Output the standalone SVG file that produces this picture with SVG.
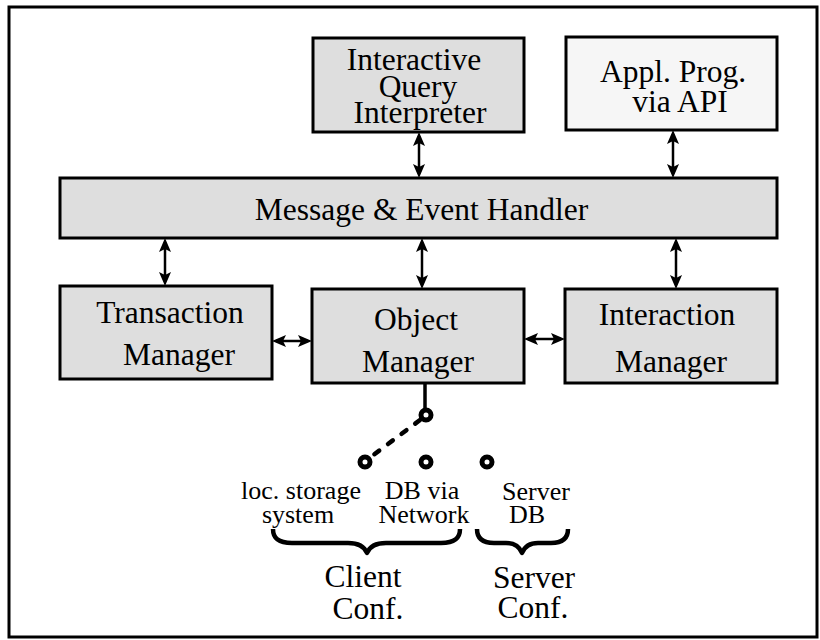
<svg xmlns="http://www.w3.org/2000/svg" width="820" height="640" viewBox="0 0 820 640">
  <style>
    .box { fill: #dedede; stroke: #000; stroke-width: 3; }
    .box.light { fill: #f6f6f6; }
    .lbl { font-family: "Liberation Serif", "Times New Roman", serif; font-size: 31.5px; fill: #000; text-anchor: middle; }
    .sm { font-family: "Liberation Serif", "Times New Roman", serif; font-size: 26px; fill: #000; text-anchor: middle; }
    .arr { stroke: #000; stroke-width: 2.5; fill: none; marker-start: url(#ah); marker-end: url(#ah); }
    .link { stroke: #000; stroke-width: 3.5; fill: none; }
    .dash { stroke: #000; stroke-width: 4.5; fill: none; stroke-linecap: round; stroke-dasharray: 6 11; }
    .port { fill: #fff; stroke: #000; stroke-width: 5; }
    .brace { stroke: #000; stroke-width: 4.5; fill: none; stroke-linejoin: round; }
  </style>
  <defs>
    <marker id="ah" viewBox="0 0 14 12" refX="10" refY="6" markerWidth="14" markerHeight="12" markerUnits="userSpaceOnUse" orient="auto-start-reverse">
      <path d="M0,0 L14,6 L0,12 L3,6 z" fill="#000"/>
    </marker>
  </defs>

  <rect x="0" y="0" width="820" height="640" fill="#fff"/>
  <!-- outer frame -->
  <rect id="frame" x="9" y="7" width="808" height="630" fill="none" stroke="#000" stroke-width="3"/>

  <g id="query-interpreter">
    <rect class="box" x="313" y="38" width="211" height="94"/>
    <text class="lbl" x="414" y="70">Interactive</text>
    <text class="lbl" x="418" y="96.5">Query</text>
    <text class="lbl" x="420" y="123">Interpreter</text>
  </g>

  <g id="appl-prog">
    <rect class="box light" x="566" y="37" width="211" height="93"/>
    <text class="lbl" x="673" y="82">Appl. Prog.</text>
    <text class="lbl" x="680" y="112">via API</text>
  </g>

  <g id="event-handler">
    <rect class="box" x="60" y="178" width="717" height="60"/>
    <text class="lbl" x="421.5" y="220">Message &amp; Event Handler</text>
  </g>

  <g id="transaction-manager">
    <rect class="box" x="60" y="286" width="212" height="93"/>
    <text class="lbl" x="170" y="323">Transaction</text>
    <text class="lbl" x="179" y="365">Manager</text>
  </g>

  <g id="object-manager">
    <rect class="box" x="312" y="289" width="212" height="94"/>
    <text class="lbl" x="416" y="330">Object</text>
    <text class="lbl" x="418" y="372">Manager</text>
  </g>

  <g id="interaction-manager">
    <rect class="box" x="565" y="289" width="212" height="94"/>
    <text class="lbl" x="667" y="325">Interaction</text>
    <text class="lbl" x="671" y="372">Manager</text>
  </g>

  <g id="connectors">
    <line class="arr" x1="419" y1="136" x2="419" y2="174"/>
    <line class="arr" x1="673" y1="134" x2="673" y2="174"/>
    <line class="arr" x1="165" y1="242" x2="165" y2="282"/>
    <line class="arr" x1="422" y1="242" x2="422" y2="285"/>
    <line class="arr" x1="676" y1="242" x2="676" y2="285"/>
    <line class="arr" x1="276" y1="341" x2="308" y2="341"/>
    <line class="arr" x1="528" y1="339" x2="561" y2="339"/>
    <!-- storage switch -->
    <line class="link" x1="425" y1="383" x2="425" y2="409"/>
    <line class="dash" x1="420" y1="420" x2="372" y2="456"/>
  </g>

  <g id="storage-options">
    <circle class="port" cx="426" cy="415" r="5"/>
    <circle class="port" cx="365" cy="462" r="5"/>
    <circle class="port" cx="426" cy="462" r="5"/>
    <circle class="port" cx="487" cy="462" r="5"/>
    <text class="sm" x="301" y="499">loc. storage</text>
    <text class="sm" x="298" y="523">system</text>
    <text class="sm" x="422" y="499">DB via</text>
    <text class="sm" x="424" y="523">Network</text>
    <text class="sm" x="536" y="500">Server</text>
    <text class="sm" x="527" y="523">DB</text>
  </g>

  <g id="client-conf">
    <path class="brace" d="M273,529 C273,538 278,543 292,543 L348,543 C360,543 365,548 367,553 C369,548 374,543 386,543 L441,543 C455,543 460,538 460,529"/>
    <text class="lbl" x="363" y="587">Client</text>
    <text class="lbl" x="368" y="619">Conf.</text>
  </g>

  <g id="server-conf">
    <path class="brace" d="M477,529 C477,538 482,543 494,543 L506,543 C516,543 520,548 522,553 C524,548 528,543 538,543 L551,543 C563,543 568,538 568,529"/>
    <text class="lbl" x="534" y="588">Server</text>
    <text class="lbl" x="533" y="618">Conf.</text>
  </g>
</svg>
